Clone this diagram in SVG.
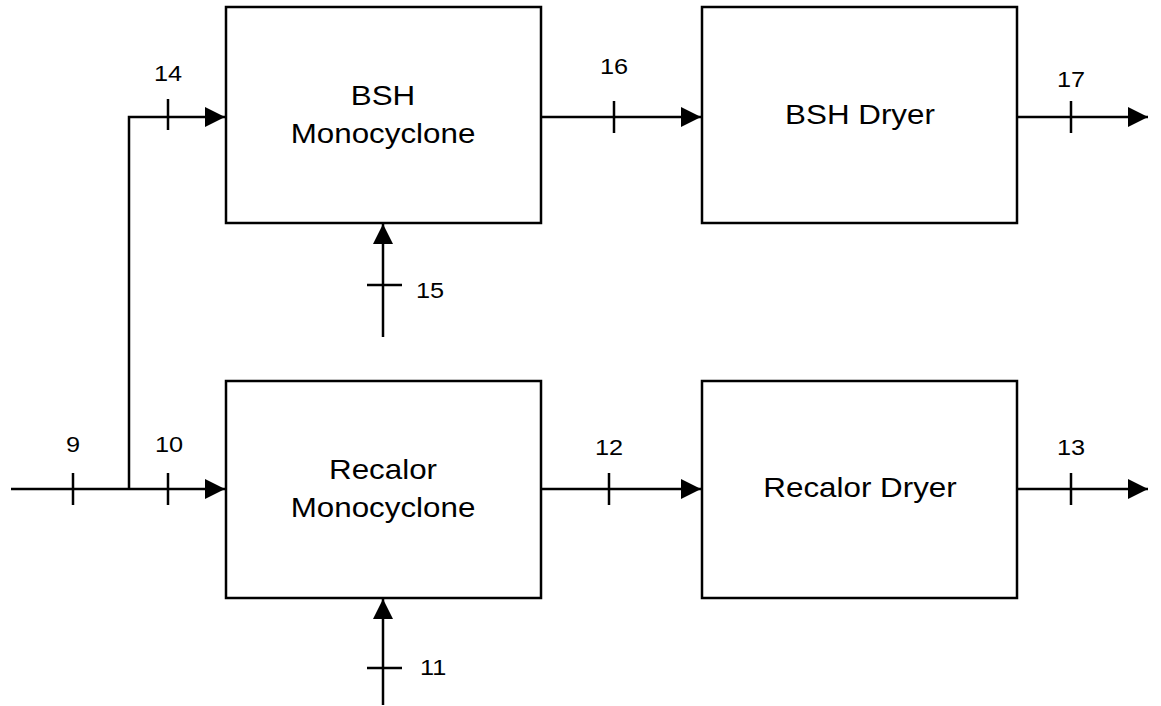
<svg xmlns="http://www.w3.org/2000/svg" width="1161" height="706" viewBox="0 0 1161 706">
<style>
.box{fill:#fff;stroke:#000;stroke-width:2.5}
.ln{fill:none;stroke:#000;stroke-width:2.5}
.tk{stroke:#000;stroke-width:2.5}
.bt{font-family:"Liberation Sans",Arial,sans-serif;font-size:28px;text-anchor:middle;fill:#000}
.nm{font-family:"Liberation Sans",Arial,sans-serif;font-size:22px;fill:#000}
.mid{text-anchor:middle}
</style>
<defs>
<marker id="arr" markerUnits="userSpaceOnUse" markerWidth="20" markerHeight="20" viewBox="0 0 18 18" refX="18" refY="9" orient="auto">
<path d="M0,0 L18,9 L0,18 Z" fill="#000"/>
</marker>
</defs>
<rect width="1161" height="706" fill="#fff"/>
<g id="connectors">
<path class="ln" d="M11,489 H225" marker-end="url(#arr)"/>
<path class="ln" d="M129,489 V117 H225" marker-end="url(#arr)"/>
<path class="ln" d="M541,117 H701" marker-end="url(#arr)"/>
<path class="ln" d="M1017,117 H1148" marker-end="url(#arr)"/>
<path class="ln" d="M541,489 H701" marker-end="url(#arr)"/>
<path class="ln" d="M1017,489 H1148" marker-end="url(#arr)"/>
<path class="ln" d="M383,337 V224" marker-end="url(#arr)"/>
<path class="ln" d="M383,705 V599" marker-end="url(#arr)"/>
<line class="tk" x1="73" y1="473" x2="73" y2="505"/>
<line class="tk" x1="168" y1="473" x2="168" y2="505"/>
<line class="tk" x1="168" y1="99" x2="168" y2="130"/>
<line class="tk" x1="614" y1="101" x2="614" y2="133"/>
<line class="tk" x1="1071" y1="101" x2="1071" y2="133"/>
<line class="tk" x1="609" y1="473" x2="609" y2="505"/>
<line class="tk" x1="1071" y1="473" x2="1071" y2="505"/>
<line class="tk" x1="367" y1="285" x2="402" y2="285"/>
<line class="tk" x1="367" y1="668" x2="402" y2="668"/>
<text class="nm mid" transform="translate(73,452) scale(1.15,1)">9</text>
<text class="nm mid" transform="translate(169,452) scale(1.15,1)">10</text>
<text class="nm mid" transform="translate(168,81) scale(1.15,1)">14</text>
<text class="nm mid" transform="translate(614,74) scale(1.15,1)">16</text>
<text class="nm mid" transform="translate(1071,87) scale(1.15,1)">17</text>
<text class="nm mid" transform="translate(609,455) scale(1.15,1)">12</text>
<text class="nm mid" transform="translate(1071,455) scale(1.15,1)">13</text>
<text class="nm" transform="translate(416,298) scale(1.15,1)">15</text>
<text class="nm" transform="translate(420,675) scale(1.15,1)">11</text>
</g>
<g id="bsh-monocyclone">
<rect class="box" x="226" y="7" width="315" height="216"/>
<text class="bt" transform="translate(383,105) scale(1.12,1)">BSH</text>
<text class="bt" transform="translate(383,143) scale(1.12,1)">Monocyclone</text>
</g>
<g id="bsh-dryer">
<rect class="box" x="702" y="7" width="315" height="216"/>
<text class="bt" transform="translate(860,124) scale(1.12,1)">BSH Dryer</text>
</g>
<g id="recalor-monocyclone">
<rect class="box" x="226" y="381" width="315" height="217"/>
<text class="bt" transform="translate(383,479) scale(1.12,1)">Recalor</text>
<text class="bt" transform="translate(383,517) scale(1.12,1)">Monocyclone</text>
</g>
<g id="recalor-dryer">
<rect class="box" x="702" y="381" width="315" height="217"/>
<text class="bt" transform="translate(860,497) scale(1.12,1)">Recalor Dryer</text>
</g>
</svg>
